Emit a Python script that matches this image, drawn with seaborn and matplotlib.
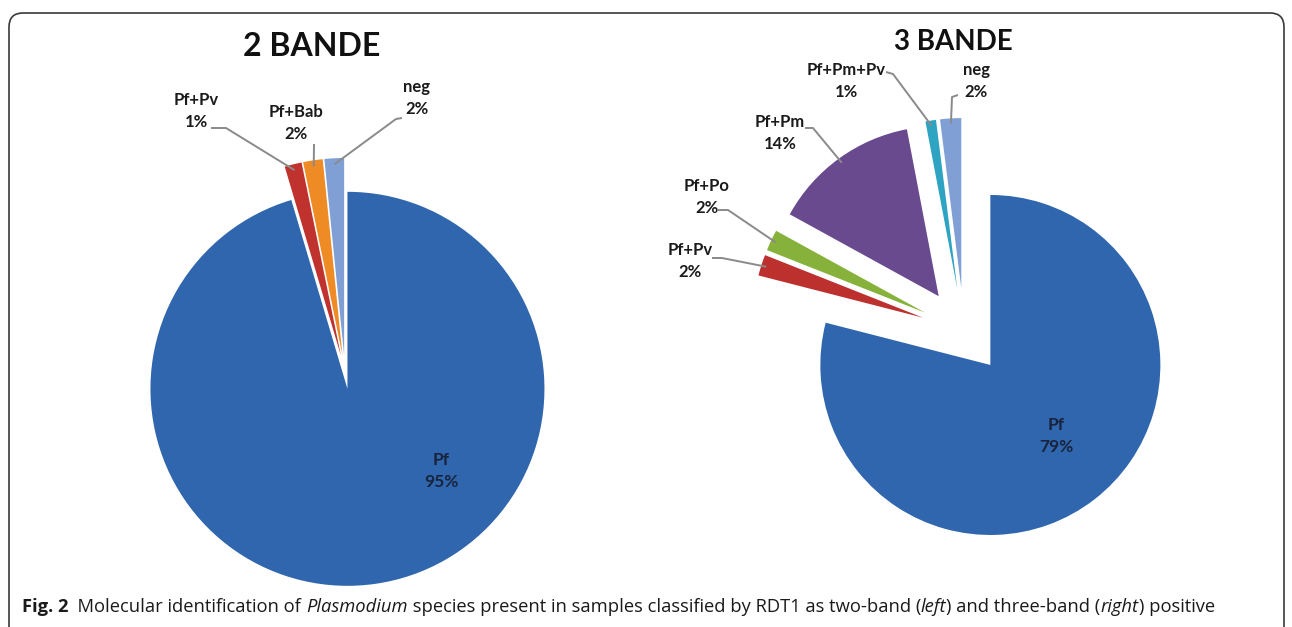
import numpy as np
import matplotlib
matplotlib.use("Agg")
import matplotlib.pyplot as plt
import seaborn as sns
from matplotlib.patches import FancyBboxPatch

# data
left_title = "2 BANDE"
left_labels = ["Pf", "Pf+Pv", "Pf+Bab", "neg"]
left_values = [95.4, 1.4, 1.6, 1.6]
left_colors = ["#2F66AD", "#C0322E", "#EE8B25", "#7F9FD5"]

right_title = "3 BANDE"
right_labels = ["Pf", "Pf+Pv", "Pf+Po", "Pf+Pm", "Pf+Pm+Pv", "neg"]
right_values = [79, 2, 2, 14, 1, 2]
right_colors = ["#2F66AD", "#BC302E", "#86B23B", "#6A4A8F", "#2EA3C2", "#7F9FD5"]

caption_parts = [
    ("Fig. 2", "bold", "normal"),
    ("  Molecular identification of ", "normal", "normal"),
    ("Plasmodium", "normal", "italic"),
    (" species present in samples classified by RDT1 as two-band (", "normal", "normal"),
    ("left", "normal", "italic"),
    (") and three-band (", "normal", "normal"),
    ("right", "normal", "italic"),
    (") positive", "normal", "normal"),
]

sns.set_theme(style="white")
plt.rcParams['font.family'] = ['Lato', 'DejaVu Sans']

W, H = 1292, 627
fig = plt.figure(figsize=(W / 100, H / 100), dpi=100)
ax = fig.add_axes([0, 0, 1, 1])


def Y(y):
    return H - y


# left pie
wl, _ = ax.pie(left_values, colors=left_colors, startangle=90, counterclock=False,
               radius=197, center=(345, Y(372)), explode=[17] * len(left_values),
               wedgeprops=dict(linewidth=0))
# right pie
wr, _ = ax.pie(right_values, colors=right_colors, startangle=90, counterclock=False,
               radius=170, center=(964, Y(331)), explode=[43] * len(right_values),
               wedgeprops=dict(linewidth=0))

ax.set_xlim(0, W)
ax.set_ylim(0, H)
ax.set_aspect("equal")
ax.axis("off")

txt = "#1b1b1b"
lead = "#8a8a8a"


def edge_point(w, f=0.97):
    t = np.deg2rad((w.theta1 + w.theta2) / 2)
    return w.center[0] + w.r * f * np.cos(t), w.center[1] + w.r * f * np.sin(t)


def pct(v):
    return f"{v:.0f}%"


def outside(w, lab, val, tx, ty, pts):
    ax.text(tx, Y(ty), f"{lab}\n{pct(val)}", ha="center", va="center",
            fontsize=12, fontweight="bold", color=txt, linespacing=1.45)
    ex, ey = edge_point(w)
    xs = [p[0] for p in pts] + [ex]
    ys = [Y(p[1]) for p in pts] + [ey]
    ax.plot(xs, ys, color=lead, lw=1.4, solid_capstyle="butt")


# titles
ax.text(312, Y(47), left_title, ha="center", va="center", fontsize=23,
        fontweight="bold", color="#111111")
ax.text(953, Y(42), right_title, ha="center", va="center", fontsize=20,
        fontweight="bold", color="#111111")

# inner labels
ax.text(441, Y(471), f"{left_labels[0]}\n{pct(left_values[0])}", ha="center",
        va="center", fontsize=12.5, fontweight="bold", color="#18243d",
        linespacing=1.45)
ax.text(1056, Y(436), f"{right_labels[0]}\n{pct(right_values[0])}", ha="center",
        va="center", fontsize=12.5, fontweight="bold", color="#18243d",
        linespacing=1.45)

# outer labels with leader lines
left_pos = {
    "Pf+Pv": (196, 111, [(211, 128), (226, 128)]),
    "Pf+Bab": (296, 123, [(314, 144)]),
    "neg": (417, 98, [(402, 118), (396, 119)]),
}
for w, lab, val in zip(wl[1:], left_labels[1:], left_values[1:]):
    tx, ty, pts = left_pos[lab]
    outside(w, lab, val, tx, ty, pts)

right_pos = {
    "Pf+Pv": (690, 261, [(712, 258), (722, 258)]),
    "Pf+Po": (707, 197, [(718, 210), (728, 210)]),
    "Pf+Pm": (780, 133, [(805, 128), (813, 128)]),
    "Pf+Pm+Pv": (846, 81, [(886, 72), (893, 74)]),
    "neg": (976, 81, [(958, 95), (952, 97)]),
}
for w, lab, val in zip(wr[1:], right_labels[1:], right_values[1:]):
    tx, ty, pts = right_pos[lab]
    outside(w, lab, val, tx, ty, pts)

# frame around the figure
ax.add_patch(FancyBboxPatch((9, -30), 1275, Y(13) + 30,
                            boxstyle="round,pad=0,rounding_size=14",
                            fc="none", ec="#3a3a3a", lw=1.2, clip_on=False))

# caption built piece by piece
fig.canvas.draw()
renderer = fig.canvas.get_renderer()
x = 22
for s, wgt, sty in caption_parts:
    t = ax.text(x, Y(607), s, ha="left", va="center", fontsize=13.2,
                fontweight=wgt, fontstyle=sty, color="#1a1a1a",
                family=['Open Sans', 'DejaVu Sans'])
    bb = t.get_window_extent(renderer=renderer)
    x += bb.width

fig.savefig("out.png", dpi=100)
